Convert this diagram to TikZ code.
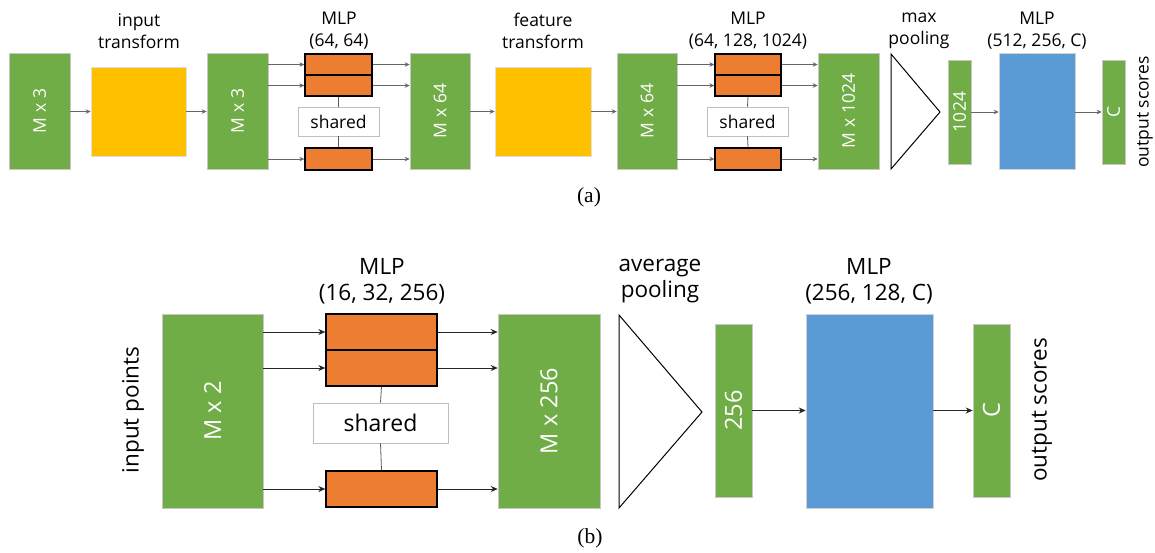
\documentclass[tikz,border=0pt]{standalone}
\usepackage{fontspec}
\setmainfont{Open Sans}
\newfontfamily\capfont{Liberation Serif}
\usepackage{tikz}
\usetikzlibrary{arrows.meta,positioning,calc}
\usepackage{xcolor}
\definecolor{featgreen}{RGB}{112,173,71}
\definecolor{tnetyellow}{RGB}{255,192,0}
\definecolor{mlporange}{RGB}{237,125,49}
\definecolor{fcblue}{RGB}{91,155,213}
\tikzset{
    feat/.style={rectangle, draw=black!22, fill=featgreen, line width=0.6pt, inner sep=0pt},
    tnet/.style={rectangle, draw=black!12, fill=tnetyellow, line width=0.6pt, inner sep=0pt},
    mlp/.style={rectangle, draw=black, fill=mlporange, line width=1.3pt, inner sep=0pt},
    fc/.style={rectangle, draw=black!18, fill=fcblue, line width=0.6pt, inner sep=0pt},
    sharedbox/.style={rectangle, draw=black!25, fill=white, line width=0.6pt, inner sep=0pt},
    pool/.style={draw=black, line width=1pt, fill=white, line join=miter},
    flow/.style={draw=black!60, line width=0.8pt, -{Stealth[length=5pt,width=4.5pt]}},
    flowB/.style={draw=black!85, line width=0.9pt, -{Stealth[length=7pt,width=6pt]}},
    tie/.style={draw=black!65, line width=0.8pt},
    txtA/.style={font=\fontsize{17.5}{22}\selectfont, align=center, inner sep=0pt},
    txtB/.style={font=\fontsize{22.5}{26}\selectfont, align=center, inner sep=0pt},
    dimA/.style={rotate=90, text=white, font=\fontsize{17.5}{20}\selectfont, inner sep=0pt},
    dimB/.style={rotate=90, text=white, font=\fontsize{23.5}{26}\selectfont, inner sep=0pt},
    sublabel/.style={font=\capfont\fontsize{21.5}{24}\selectfont, inner sep=0pt},
}
\begin{document}
\begin{tikzpicture}[x=1pt, y=-1pt]
    \useasboundingbox (0,0) rectangle (1155,552);

    % ---- (a) classification network ----
    \node[feat, minimum width=61, minimum height=116, label={[dimA]center:M x 3}] (gA1) at (39.5,111) {};
    \node[tnet, minimum width=95, minimum height=89] (yA1) at (138.5,111.5) {};
    \node[feat, minimum width=61, minimum height=116, label={[dimA]center:M x 3}] (gA2) at (237.5,111) {};

    \node[mlp, minimum width=67, minimum height=21] (oA1a) at (338.5,64.5) {};
    \node[mlp, minimum width=67, minimum height=21] (oA1b) at (338.5,85.5) {};
    \node[sharedbox, minimum width=81, minimum height=29, font=\fontsize{17.5}{20}\selectfont] (sA1) at (338.5,121.5) {shared};
    \node[mlp, minimum width=67, minimum height=22] (oA1c) at (338.5,159) {};

    \node[feat, minimum width=60, minimum height=116, label={[dimA]center:M x 64}] (gA3) at (440,111) {};
    \node[tnet, minimum width=96, minimum height=89] (yA2) at (543,111.5) {};
    \node[feat, minimum width=60, minimum height=116, label={[dimA]center:M x 64}] (gA4) at (647,111) {};

    \node[mlp, minimum width=66, minimum height=21] (oA2a) at (748,64.5) {};
    \node[mlp, minimum width=66, minimum height=21] (oA2b) at (748,85.5) {};
    \node[sharedbox, minimum width=81, minimum height=29, font=\fontsize{17.5}{20}\selectfont] (sA2) at (747.5,121.5) {shared};
    \node[mlp, minimum width=66, minimum height=22] (oA2c) at (748,159) {};

    \node[feat, minimum width=61, minimum height=116, label={[dimA]center:M x 1024}] (gA5) at (848.5,111) {};
    \draw[pool] (891,54) -- (940,112) -- (891,169) -- cycle;
    \node[feat, minimum width=23, minimum height=104, label={[dimA]center:1024}] (gA6) at (959.5,112) {};
    \node[fc, minimum width=76, minimum height=116] (bA) at (1037,111) {};
    \node[feat, minimum width=23, minimum height=104, label={[dimA]center:C}] (gA7) at (1113.5,112) {};

    \draw[flow] (gA1.east |- yA1.west) -- (yA1.west);
    \draw[flow] (yA1.east) -- (yA1.east -| gA2.west);
    \draw[flow] (gA3.east |- yA2.west) -- (yA2.west);
    \draw[flow] (yA2.east) -- (yA2.east -| gA4.west);
    \foreach \o in {oA1a,oA1b,oA1c} {
        \draw[flow] (\o.west -| gA2.east) -- (\o.west);
        \draw[flow] (\o.east) -- (\o.east -| gA3.west);
    }
    \foreach \o in {oA2a,oA2b,oA2c} {
        \draw[flow] (\o.west -| gA4.east) -- (\o.west);
        \draw[flow] (\o.east) -- (\o.east -| gA5.west);
    }
    \draw[tie] (oA1b.south) -- (sA1.north);
    \draw[tie] (sA1.south) -- (oA1c.north);
    \draw[tie] (oA2b.south) -- (sA2.north);
    \draw[tie] (sA2.south) -- (oA2c.north);
    \draw[flow] (gA6.east) -- (bA.west |- gA6.east);
    \draw[flow] (bA.east |- gA7.west) -- (gA7.west);

    \node[txtA] (tA1) at (139,31) {input\\transform};
    \node[txtA] (tA2) at (339,31) {MLP\\(64, 64)};
    \node[txtA] (tA3) at (543,31) {feature\\transform};
    \node[txtA] (tA4) at (748,31) {MLP\\(64, 128, 1024)};
    \node[txtA] (tA5) at (919,31) {max\\pooling};
    \node[txtA] (tA6) at (1037,31) {MLP\\(512, 256, C)};
    \node[txtA, rotate=90] (outA) at (1145,112) {output scores};
    \node[sublabel] (capA) at (589,197) {(a)};

    % ---- (b) simplified network ----
    \node[feat, minimum width=101, minimum height=194, label={[dimB]center:M x 2}] (gB1) at (212.5,411) {};
    \node[mlp, minimum width=111, minimum height=36] (oBa) at (381.5,332) {};
    \node[mlp, minimum width=111, minimum height=36] (oBb) at (381.5,368) {};
    \node[sharedbox, minimum width=135, minimum height=40, font=\fontsize{23}{26}\selectfont] (sB) at (380.5,423) {shared};
    \node[mlp, minimum width=111, minimum height=36] (oBc) at (381.5,489) {};
    \node[feat, minimum width=102, minimum height=194, label={[dimB]center:M x 256}] (gB2) at (549,411) {};
    \draw[pool] (619,315) -- (702,412) -- (619,508) -- cycle;
    \node[feat, minimum width=37, minimum height=173, label={[dimB]center:256}] (gB3) at (733.5,410.5) {};
    \node[fc, minimum width=127, minimum height=194] (bB) at (869.5,411) {};
    \node[feat, minimum width=37, minimum height=173, label={[dimB]center:C}] (gB4) at (991.5,410.5) {};

    \foreach \o in {oBa,oBb,oBc} {
        \draw[flowB] (\o.west -| gB1.east) -- (\o.west);
        \draw[flowB] (\o.east) -- (\o.east -| gB2.west);
    }
    \draw[tie] (oBb.south) -- (sB.north);
    \draw[tie] (sB.south) -- (oBc.north);
    \draw[flowB] (gB3.east) -- (bB.west |- gB3.east);
    \draw[flowB] (bB.east |- gB4.west) -- (gB4.west);

    \node[txtB] (tB1) at (382,281) {MLP\\(16, 32, 256)};
    \node[txtB] (tB2) at (660,281) {average\\pooling};
    \node[txtB] (tB3) at (869,281) {MLP\\(256, 128, C)};
    \node[txtB, rotate=90] (inB) at (133,410) {input points};
    \node[txtB, rotate=90] (outB) at (1042,410) {output scores};
    \node[sublabel] (capB) at (590,538) {(b)};
\end{tikzpicture}
\end{document}
